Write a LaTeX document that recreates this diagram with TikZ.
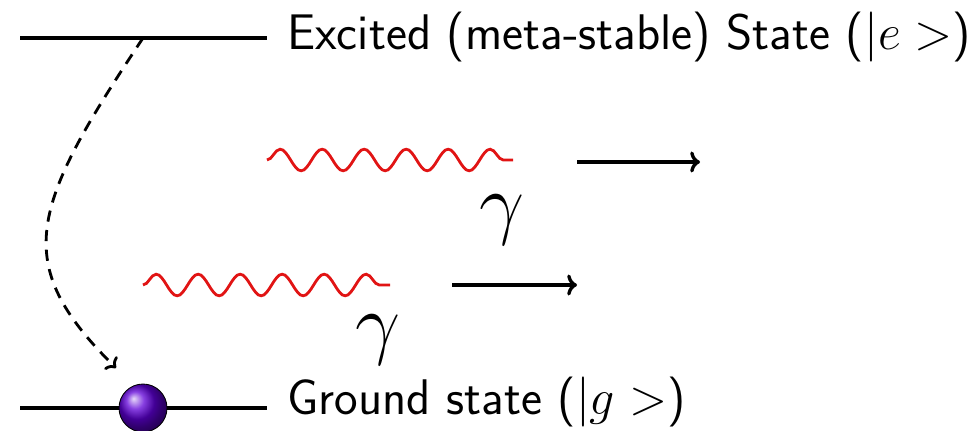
\RequirePackage{fix-cm}
\documentclass[tikz,border=0pt]{standalone}
\usetikzlibrary{arrows.meta,decorations.pathmorphing}
\definecolor{atomviolet}{RGB}{95,0,215}
\definecolor{photonred}{RGB}{225,20,20}
\tikzset{
  level/.style={line width=2.4pt},
  photon/.style={photonred,line width=2pt,decorate,
    decoration={snake,segment length=1.05cm,amplitude=0.27cm,post length=0.15cm}},
  flight/.style={line width=2.4pt,-{To[length=7pt,width=15pt]}},
  label/.style={inner sep=0pt,font=\fontsize{35.6}{42}\selectfont\sffamily},
  photonlabel/.style={inner sep=0pt,font=\fontsize{57}{64}\selectfont}
}
\begin{document}
\begin{tikzpicture}
  \useasboundingbox (0,0) rectangle (24.375,-10.775);
  % energy levels
  \coordinate (e1) at (0.5,-0.95);
  \coordinate (e2) at (6.675,-0.95);
  \coordinate (g1) at (0.5,-10.2);
  \coordinate (g2) at (6.675,-10.2);
  \draw[level] (e1) -- (e2);
  \draw[level] (g1) -- (g2);
  \node[label,anchor=base west] (excited) at (7.175,-1.25) {Excited (meta-stable) State ($|e>$)};
  \node[label,anchor=base west] (ground) at (7.175,-10.35) {Ground state ($|g>$)};
  \node[circle,draw,line width=0.6pt,ball color=atomviolet,minimum size=1.2cm] (atom) at (3.575,-10.2) {};
  % decay
  \coordinate (emit) at (3.575,-0.95);
  \coordinate (land) at (2.9,-9.2);
  \draw[line width=2pt,dash pattern=on 8pt off 6pt,-{To[length=6pt,width=13pt]}]
    (emit) .. controls (0.75,-5.2) and (0.25,-6.575) .. (land);
  % photons
  \coordinate (w1) at (6.675,-4.0);
  \coordinate (w2) at (12.825,-4.0);
  \coordinate (w3) at (3.575,-7.125);
  \coordinate (w4) at (9.75,-7.125);
  \draw[photon] (w1) -- (w2);
  \draw[photon] (w3) -- (w4);
  \coordinate (a1) at (14.425,-4.05);
  \coordinate (a2) at (17.5,-4.05);
  \coordinate (a3) at (11.3,-7.125);
  \coordinate (a4) at (14.425,-7.125);
  \draw[flight] (a1) -- (a2);
  \draw[flight] (a3) -- (a4);
  \node[photonlabel] (gamma1) at (12.55,-5.5) {$\gamma$};
  \node[photonlabel] (gamma2) at (9.45,-8.5) {$\gamma$};
\end{tikzpicture}
\end{document}
